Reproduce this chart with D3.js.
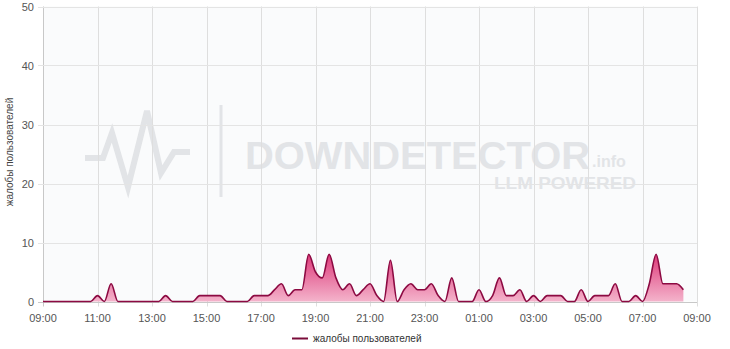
<!DOCTYPE html>
<html>
<head>
<meta charset="utf-8">
<script src="https://cdn.jsdelivr.net/npm/d3@7"></script>
<style>
	body { margin: 0; background: #fff; }
	svg { display: block; font-family: "Liberation Sans", Arial, sans-serif; }
</style>
</head>
<body>
<div id="diagram"></div>
<script>
// 15-minute buckets, starting 09:00, ending 08:30 next day
const startTime = new Date(2024, 0, 1, 9, 0);
const complaints = [
	0, 0, 0, 0,   // 09
	0, 0, 0, 0,   // 10
	1, 0, 3, 0,   // 11
	0, 0, 0, 0,   // 12
	0, 0, 1, 0,   // 13
	0, 0, 0, 1,   // 14
	1, 1, 1, 0,   // 15
	0, 0, 0, 1,   // 16
	1, 1, 2, 3,   // 17
	1, 2, 2, 8,   // 18
	5, 4, 8, 4,   // 19
	2, 3, 1, 2,   // 20
	3, 1, 0, 7,   // 21
	0, 2, 3, 2,   // 22
	2, 3, 1, 0,   // 23
	4, 0, 0, 0,   // 00
	2, 0, 1, 4,   // 01
	1, 1, 2, 0,   // 02
	1, 0, 1, 1,   // 03
	1, 0, 0, 2,   // 04
	0, 1, 1, 1,   // 05
	3, 0, 0, 1,   // 06
	0, 3, 8, 3,   // 07
	3, 3, 2       // 08
];
const yTicks = [0, 10, 20, 30, 40, 50];
const seriesName = "жалобы пользователей";

const data = complaints.map((v, i) => ({
	t: new Date(startTime.getTime() + i * 15 * 60000),
	y: v
}));

const width = 730;
const height = 349;
const plotLeft = 43, plotRight = 697, plotTop = 6.5, plotBottom = 301.5;

const xScale = d3.scaleTime()
	.domain([startTime, new Date(startTime.getTime() + 24 * 3600000)])
	.range([plotLeft, plotRight]);

const yScale = d3.scaleLinear()
	.domain([0, 50])
	.range([plotBottom, plotTop]);

const svg = d3.select("#diagram")
	.append("svg")
	.attr("width", width)
	.attr("height", height);

const defs = svg.append("defs");
const grad = defs.append("linearGradient")
	.attr("id", "fillGrad")
	.attr("gradientUnits", "userSpaceOnUse")
	.attr("x1", 0).attr("x2", 0)
	.attr("y1", yScale(8)).attr("y2", yScale(0));
grad.append("stop").attr("offset", "0%").attr("stop-color", "#dd3a7a");
grad.append("stop").attr("offset", "100%").attr("stop-color", "#f4b3cb");

// plot background
svg.append("rect")
	.attr("x", plotLeft).attr("y", plotTop)
	.attr("width", plotRight - plotLeft).attr("height", plotBottom - plotTop)
	.attr("fill", "#fafbfc");

// watermark
const wm = svg.append("g").attr("fill", "#e2e4e7").attr("stroke", "#e2e4e7");
wm.append("polyline")
	.attr("points", "85,158 103,158 112,133 128,187 147,111 161,173 174,152 190,152")
	.attr("fill", "none")
	.attr("stroke-width", 6)
	.attr("stroke-linejoin", "miter");
wm.append("rect")
	.attr("x", 219.5).attr("y", 105).attr("width", 3).attr("height", 92)
	.attr("stroke", "none");
wm.append("text")
	.attr("x", 245).attr("y", 168.5)
	.attr("font-size", 39).attr("font-weight", "bold")
	.attr("textLength", 345).attr("lengthAdjust", "spacingAndGlyphs")
	.attr("stroke", "none")
	.text("DOWNDETECTOR");
wm.append("text")
	.attr("x", 592).attr("y", 167)
	.attr("font-size", 16).attr("font-weight", "bold")
	.attr("stroke", "none")
	.text(".info");
wm.append("text")
	.attr("x", 494).attr("y", 189)
	.attr("font-size", 16.5).attr("font-weight", "bold")
	.attr("textLength", 142).attr("lengthAdjust", "spacingAndGlyphs")
	.attr("stroke", "none")
	.text("LLM POWERED");

// grid
const xTicks = d3.range(0, 13).map(i => new Date(startTime.getTime() + i * 2 * 3600000));

svg.append("g")
	.selectAll("line")
	.data(xTicks)
	.enter()
	.append("line")
	.attr("x1", d => Math.round(xScale(d)) + 0.5)
	.attr("x2", d => Math.round(xScale(d)) + 0.5)
	.attr("y1", plotTop).attr("y2", plotBottom + 5)
	.attr("stroke", (d, i) => i == 0 ? "#c8c8c8" : "#dedede");

svg.append("g")
	.selectAll("line")
	.data(yTicks)
	.enter()
	.append("line")
	.attr("x1", plotLeft - 5).attr("x2", plotRight)
	.attr("y1", d => Math.round(yScale(d)) + 0.5)
	.attr("y2", d => Math.round(yScale(d)) + 0.5)
	.attr("stroke", d => d == 0 ? "#c8c8c8" : "#e4e4e4");

// axis labels
svg.append("g")
	.selectAll("text")
	.data(yTicks)
	.enter()
	.append("text")
	.attr("x", 34)
	.attr("y", d => yScale(d) + 4)
	.attr("text-anchor", "end")
	.attr("font-size", "11px")
	.attr("fill", "#555")
	.text(d => d);

svg.append("g")
	.selectAll("text")
	.data(xTicks)
	.enter()
	.append("text")
	.attr("x", d => xScale(d))
	.attr("y", 322)
	.attr("text-anchor", "middle")
	.attr("font-size", "11px")
	.attr("fill", "#555")
	.text(d => d3.timeFormat("%H:%M")(d));

svg.append("text")
	.attr("transform", "translate(13,152) rotate(-90)")
	.attr("text-anchor", "middle")
	.attr("font-size", "10px")
	.attr("fill", "#444")
	.text(seriesName);

// area + line
const area = d3.area()
	.x(d => xScale(d.t))
	.y0(yScale(0))
	.y1(d => yScale(d.y))
	.curve(d3.curveMonotoneX);

const line = d3.line()
	.x(d => xScale(d.t))
	.y(d => yScale(d.y))
	.curve(d3.curveMonotoneX);

svg.append("path")
	.datum(data)
	.attr("d", area)
	.attr("fill", "url(#fillGrad)");

svg.append("path")
	.datum(data)
	.attr("d", line)
	.attr("fill", "none")
	.attr("stroke", "#8c0a42")
	.attr("stroke-width", 1.6);

// legend
svg.append("line")
	.attr("x1", 292).attr("x2", 308)
	.attr("y1", 338.5).attr("y2", 338.5)
	.attr("stroke", "#7a0c3a")
	.attr("stroke-width", 2);

svg.append("text")
	.attr("x", 313)
	.attr("y", 342)
	.attr("font-size", "10px")
	.attr("fill", "#333")
	.text(seriesName);
</script>
</body>
</html>
